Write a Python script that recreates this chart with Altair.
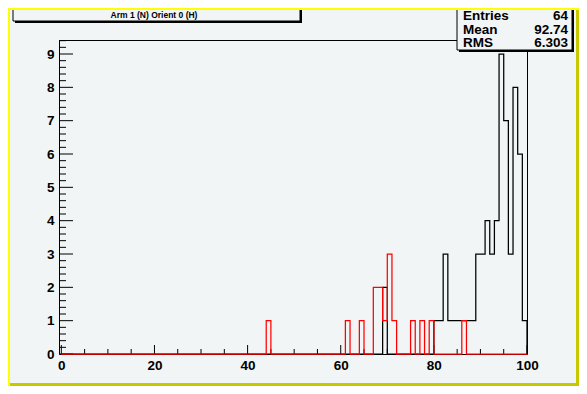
import altair as alt
import pandas as pd

# ---- data (integer bins, width 1) ----
black_bins = [69, 80, 81, 82, 83, 84, 85, 86, 87, 88, 89, 90, 91, 92, 93, 94, 95, 96, 97, 98, 99]
black_counts = [2, 1, 1, 3, 1, 1, 1, 1, 1, 1, 3, 3, 4, 3, 4, 9, 7, 3, 8, 6, 1]
red_bins = [44, 61, 64, 67, 68, 69, 70, 71, 75, 77, 79, 86]
red_counts = [1, 1, 1, 2, 2, 1, 3, 1, 1, 1, 1, 1]

x_labels = [0, 20, 40, 60, 80, 100]
x_minor = [5, 10, 15, 25, 30, 35, 45, 50, 55, 65, 70, 75, 85, 90, 95]
y_labels = [0, 1, 2, 3, 4, 5, 6, 7, 8, 9]
y_minor = [round(i * 0.2, 1) for i in range(48) if i % 5 != 0]

title_text = "Arm 1 (N) Orient 0 (H)"
stats_names = ["Entries", "Mean", "RMS"]
stats_values = ["64", "92.74", "6.303"]

W, H = 468, 314
FONT = "Liberation Sans"
BG = "#f1f5f5"


def steps(bins, counts):
    full = [0] * 100
    for b, c in zip(bins, counts):
        full[b] = c
    return pd.DataFrame({"x": list(range(101)), "y": full + [0]})


xs = alt.Scale(domain=[-0.5, 100], nice=False, zero=False)
ys = alt.Scale(domain=[0, 9.42], nice=False, zero=False)
xaxis = alt.Axis(values=x_labels, domain=False, ticks=False, grid=False, title=None,
                 labelFont=FONT, labelFontWeight="bold", labelFontSize=13.5,
                 labelColor="black", labelPadding=4, labelFlush=False)
yaxis = alt.Axis(values=y_labels, domain=False, ticks=False, grid=False, title=None,
                 labelFont=FONT, labelFontWeight="bold", labelFontSize=13.5,
                 labelColor="black", labelPadding=5, labelFlush=False)

black_line = alt.Chart(steps(black_bins, black_counts)).mark_line(
    interpolate="step-after", color="black", strokeWidth=1.25
).encode(x=alt.X("x:Q", scale=xs, axis=xaxis), y=alt.Y("y:Q", scale=ys, axis=yaxis))

red_line = alt.Chart(steps(red_bins, red_counts)).mark_line(
    interpolate="step-after", color="#ff0000", strokeWidth=1.25
).encode(x=alt.X("x:Q", scale=xs, axis=xaxis), y=alt.Y("y:Q", scale=ys, axis=yaxis))

# inside ticks
xmaj = alt.Chart(pd.DataFrame({"t": x_labels})).mark_rule(color="black", strokeWidth=1).encode(
    x=alt.X("t:Q", scale=xs, axis=xaxis), y=alt.value(H), y2=alt.value(H - 9))
xmin = alt.Chart(pd.DataFrame({"t": x_minor})).mark_rule(color="black", strokeWidth=1).encode(
    x=alt.X("t:Q", scale=xs, axis=xaxis), y=alt.value(H), y2=alt.value(H - 5))
ymaj = alt.Chart(pd.DataFrame({"t": y_labels})).mark_rule(color="black", strokeWidth=1).encode(
    y=alt.Y("t:Q", scale=ys, axis=yaxis), x=alt.value(0), x2=alt.value(14))
ymin = alt.Chart(pd.DataFrame({"t": y_minor})).mark_rule(color="black", strokeWidth=1).encode(
    y=alt.Y("t:Q", scale=ys, axis=yaxis), x=alt.value(0), x2=alt.value(7))

one = pd.DataFrame({"a": [0]})


def box(x1, x2, y1, y2, fill, stroke=None):
    kw = dict(fill=fill)
    if stroke:
        kw.update(stroke=stroke, strokeWidth=1)
    else:
        kw.update(strokeWidth=0)
    return alt.Chart(one).mark_rect(**kw).encode(
        x=alt.value(x1), x2=alt.value(x2), y=alt.value(y1), y2=alt.value(y2))


def text(s, x, y, size, align, color="black"):
    return alt.Chart(one).mark_text(
        text=s, font=FONT, fontWeight="bold", fontSize=size, align=align,
        baseline="middle", color=color
    ).encode(x=alt.value(x), y=alt.value(y))


# title box (top-left, clipped at top)
title_shadow = box(-44, 243, -40, -17, "black")
title_box = box(-46, 241, -42, -19, BG, "black")
title_lbl = text(title_text, 95, -25.5, 8.5, "center")

# stats box (top-right, clipped at top)
stats_shadow = box(400, 515, -40, 12, "black")
stats_box = box(398, 513, -42, 10, BG, "black")
row_y = [-24, -10.5, 3]
stats_layers = []
for name, val, yy in zip(stats_names, stats_values, row_y):
    stats_layers.append(text(name, 404, yy, 13.5, "left"))
    stats_layers.append(text(val, 509, yy, 13.5, "right"))

# yellow canvas border (chart spans view x -51..520, y -32..346)
b_top = box(-51, 520, -32, -30, "#ffff00")
b_left = box(-51, -49, -32, 346, "#ffff00")
b_right = box(517, 520, -30, 346, "#c8c800")
b_bottom = box(-49, 520, 343, 346, "#c8c800")

chart = alt.layer(
    xmin, xmaj, ymin, ymaj, black_line, red_line,
    title_shadow, title_box, title_lbl,
    stats_shadow, stats_box, *stats_layers,
    b_top, b_left, b_right, b_bottom,
).properties(
    width=W, height=H,
    padding={"left": 51, "top": 32, "right": 52, "bottom": 32},
    autosize=alt.AutoSizeParams(type="none"),
    background=BG,
).configure_view(stroke="black", strokeWidth=1)

chart.save("out.html", embed_options={"renderer": "svg", "actions": False})
